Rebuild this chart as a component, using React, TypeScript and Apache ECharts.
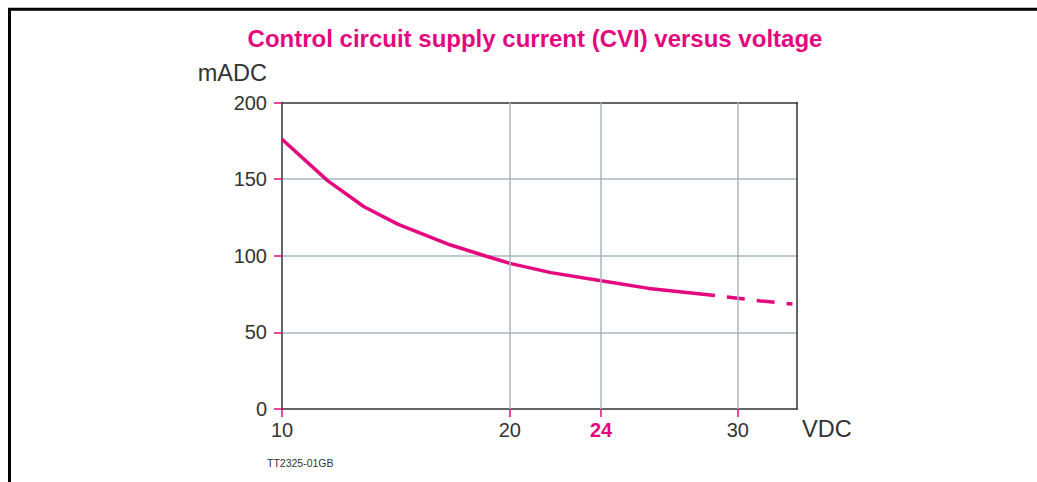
import React, { useEffect, useRef } from "react";
import * as echarts from "echarts";

const solidX = [10, 12, 13.6, 15.1, 17.4, 19, 20, 21.8, 24, 26.1, 29];
const solidY = [176, 149, 132, 120.5, 107, 99.5, 95, 89, 83.7, 78.7, 74];
const dashedX = [29, 30, 31, 32.4];
const dashedY = [74, 72.3, 70.5, 68.5];
const xTicks = [10, 20, 24, 30];
const xGrid = [20, 24, 30];

const MAGENTA = "#E4077E";
const GRID = "#A9B6C2";
const DARK = "#333333";
const FONT = "'Liberation Sans', Arial, sans-serif";

export default function App() {
  const ref = useRef<HTMLDivElement>(null);
  useEffect(() => {
    if (!ref.current) return;
    const chart = echarts.init(ref.current, undefined, { renderer: "svg" });
    const xMin = 10;
    const xMax = 32.6;
    chart.setOption({
      animation: false,
      backgroundColor: "#ffffff",
      textStyle: { fontFamily: FONT },
      grid: { left: 282, top: 102.5, right: 240, bottom: 73, containLabel: false },
      xAxis: [
        {
          type: "value",
          min: xMin,
          max: xMax,
          axisLine: { show: true, lineStyle: { color: DARK, width: 1.5 } },
          axisTick: {
            show: true,
            length: 8,
            customValues: xTicks,
            lineStyle: { color: MAGENTA, width: 1.5 },
          },
          axisLabel: {
            customValues: xTicks,
            margin: 11,
            fontSize: 20,
            color: DARK,
            fontFamily: FONT,
            formatter: (v: number) => (v === 24 ? "{b|24}" : String(v)),
            rich: {
              b: { fontSize: 20, fontWeight: "bold", color: MAGENTA, fontFamily: FONT },
            },
          },
          splitLine: { show: false },
        },
        {
          type: "value",
          position: "top",
          min: xMin,
          max: xMax,
          axisLine: { show: true, onZero: false, lineStyle: { color: DARK, width: 1.5 } },
          axisTick: { show: false },
          axisLabel: { show: false },
          splitLine: { show: false },
        },
      ],
      yAxis: [
        {
          type: "value",
          min: 0,
          max: 200,
          interval: 50,
          axisLine: { show: true, lineStyle: { color: DARK, width: 1.5 } },
          axisTick: { show: true, length: 8, lineStyle: { color: MAGENTA, width: 1.5 } },
          axisLabel: { margin: 15, fontSize: 20, color: DARK, fontFamily: FONT },
          splitLine: {
            show: true,
            showMinLine: false,
            showMaxLine: false,
            lineStyle: { color: GRID, width: 1.5 },
          },
        },
        {
          type: "value",
          position: "right",
          min: 0,
          max: 200,
          axisLine: { show: true, onZero: false, lineStyle: { color: DARK, width: 1.5 } },
          axisTick: { show: false },
          axisLabel: { show: false },
          splitLine: { show: false },
        },
      ],
      graphic: [
        {
          type: "polyline",
          shape: { points: [[9.5, 482], [9.5, 9.2], [1037, 9.2]] },
          style: { stroke: "#000", lineWidth: 3, fill: "none" },
        },
        {
          type: "text",
          x: 535,
          y: 38,
          style: {
            text: "Control circuit supply current (CVI) versus voltage",
            fill: MAGENTA,
            font: `bold 24px ${FONT}`,
            textAlign: "center",
            textVerticalAlign: "middle",
          },
        },
        {
          type: "text",
          x: 267,
          y: 73,
          style: {
            text: "mADC",
            fill: DARK,
            font: `23.5px ${FONT}`,
            textAlign: "right",
            textVerticalAlign: "middle",
          },
        },
        {
          type: "text",
          x: 802,
          y: 429,
          style: {
            text: "VDC",
            fill: DARK,
            font: `23.5px ${FONT}`,
            textAlign: "left",
            textVerticalAlign: "middle",
          },
        },
        {
          type: "text",
          x: 267,
          y: 463,
          style: {
            text: "TT2325-01GB",
            fill: DARK,
            font: `10.5px ${FONT}`,
            textAlign: "left",
            textVerticalAlign: "middle",
          },
        },
      ],
      series: [
        {
          type: "line",
          data: [],
          silent: true,
          z: 1,
          markLine: {
            silent: true,
            symbol: "none",
            label: { show: false },
            lineStyle: { color: GRID, width: 1.5, type: "solid" },
            data: xGrid.map((v) => ({ xAxis: v })),
          },
        },
        {
          type: "line",
          z: 3,
          showSymbol: false,
          symbol: "none",
          data: solidX.map((x, i) => [x, solidY[i]]),
          lineStyle: { color: MAGENTA, width: 3.5 },
        },
        {
          type: "line",
          z: 3,
          showSymbol: false,
          symbol: "none",
          data: dashedX.map((x, i) => [x, dashedY[i]]),
          lineStyle: { color: MAGENTA, width: 3.5, type: [18, 12], dashOffset: 18 },
        },
      ],
    });
    return () => chart.dispose();
  }, []);
  return (
    <div
      ref={ref}
      style={{ position: "fixed", left: 0, top: 0, width: 1037, height: 482 }}
    />
  );
}
